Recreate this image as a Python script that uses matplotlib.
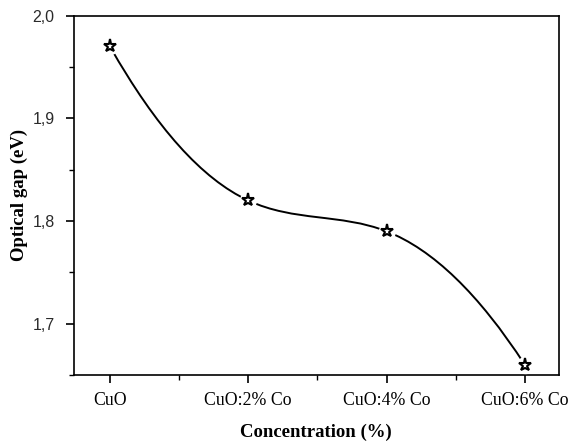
import matplotlib
matplotlib.use('Agg')
import matplotlib.pyplot as plt
import numpy as np
from matplotlib.path import Path
from matplotlib.patches import PathPatch
from matplotlib.ticker import FuncFormatter, MultipleLocator

# Data
categories = ["CuO", "CuO:2% Co", "CuO:4% Co", "CuO:6% Co"]
optical_gap = [1.97, 1.82, 1.79, 1.66]
y_ticks = [1.7, 1.8, 1.9, 2.0]


def spline_path(xs, ys):
    # cubic spline (parabolic runout ends) drawn as exact bezier segments
    xs = np.asarray(xs, float)
    ys = np.asarray(ys, float)
    n = len(xs)
    h = np.diff(xs)
    A = np.zeros((n, n))
    b = np.zeros(n)
    A[0, 0], A[0, 1] = 1, -1
    A[-1, -1], A[-1, -2] = 1, -1
    for i in range(1, n - 1):
        A[i, i - 1] = h[i - 1]
        A[i, i] = 2 * (h[i - 1] + h[i])
        A[i, i + 1] = h[i]
        b[i] = 6 * ((ys[i + 1] - ys[i]) / h[i] - (ys[i] - ys[i - 1]) / h[i - 1])
    M = np.linalg.solve(A, b)
    verts = [(xs[0], ys[0])]
    codes = [Path.MOVETO]
    for i in range(n - 1):
        s = (ys[i + 1] - ys[i]) / h[i]
        d0 = s - h[i] * (2 * M[i] + M[i + 1]) / 6
        d1 = s + h[i] * (M[i] + 2 * M[i + 1]) / 6
        verts += [(xs[i] + h[i] / 3, ys[i] + d0 * h[i] / 3),
                  (xs[i + 1] - h[i] / 3, ys[i + 1] - d1 * h[i] / 3),
                  (xs[i + 1], ys[i + 1])]
        codes += [Path.CURVE4] * 3
    return Path(verts, codes)


fig = plt.figure(figsize=(5.69, 4.45), dpi=100)
ax = fig.add_axes([0.130, 0.157, 0.852, 0.808])

x = np.arange(len(categories))
ax.add_patch(PathPatch(spline_path(x, optical_gap), fill=False, lw=1.4, color='black', zorder=2))
# white blobs leave a small gap between curve and symbols
ax.plot(x, optical_gap, 'o', ms=11.5, color='white', zorder=3)
ax.plot(x, optical_gap, '*', ms=9.5, mfc='white', mec='black', mew=1.5, zorder=4)

ax.set_xlim(-0.26, 3.245)
ax.set_ylim(1.65, 2.0)
ax.set_xticks(x)
ax.set_xticklabels(categories, fontfamily='Liberation Serif', fontsize=12.8)
ax.xaxis.set_minor_locator(MultipleLocator(0.5))
ax.set_yticks(y_ticks)
ax.yaxis.set_minor_locator(MultipleLocator(0.05))
ax.yaxis.set_major_formatter(FuncFormatter(lambda v, p: f"{v:.1f}".replace('.', ',')))
for lab in ax.get_yticklabels():
    lab.set_fontfamily('Liberation Sans')
    lab.set_fontsize(11.5)

ax.tick_params(which='major', direction='out', length=6, width=1.2)
ax.tick_params(which='minor', direction='out', length=3.5, width=1.0)
ax.tick_params(axis='x', which='major', pad=6)
ax.tick_params(axis='y', which='major', pad=8, labelcolor='#2a2a2a')
for sp in ax.spines.values():
    sp.set_linewidth(1.2)

ax.set_xlabel("Concentration (%)", fontfamily='Liberation Serif', fontweight='bold', fontsize=13.5, labelpad=11)
ax.set_ylabel("Optical gap (eV)", fontfamily='Liberation Serif', fontweight='bold', fontsize=13.5, labelpad=3)

plt.savefig("out.png", dpi=100)
plt.close()
